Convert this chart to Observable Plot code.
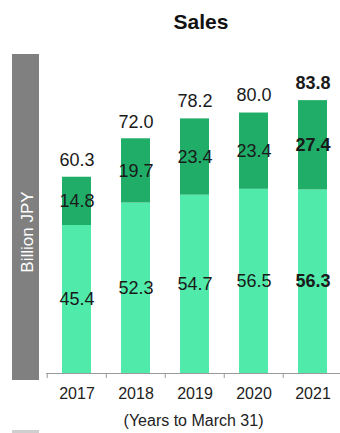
<!DOCTYPE html>
<html>
<head>
<meta charset="utf-8">
<script src="https://cdn.jsdelivr.net/npm/d3@7"></script>
<script src="https://cdn.jsdelivr.net/npm/@observablehq/plot@0.6"></script>
<style>
  body { margin: 0; background: #fff; font-family: "Liberation Sans", Arial, sans-serif; }
  #wrap { position: relative; width: 340px; height: 433px; overflow: hidden; }
  #chart { position: absolute; left: 0; top: 0; }
  #title { position: absolute; left: 0; width: 402px; top: 11px; text-align: center;
           font-weight: bold; font-size: 21px; line-height: 1; color: #111; }
  #unit { position: absolute; left: 12px; top: 54px; width: 27px; height: 326px; background: #808080; }
  #unit span { position: absolute; left: 15px; top: 178px; transform: translate(-50%, -50%) rotate(-90deg);
               color: #fff; font-size: 17px; white-space: nowrap; line-height: 1; }
  #foot { position: absolute; left: 12px; top: 430px; width: 27px; height: 3px; background: #cfcfcf; }
</style>
</head>
<body>
<div id="wrap">
  <div id="chart"></div>
  <div id="title">Sales</div>
  <div id="unit"><span>Billion JPY</span></div>
  <div id="foot"></div>
</div>
<script>
// Fiscal years (ending March 31)
const years = ["2017", "2018", "2019", "2020", "2021"];
// Sales split into two segments, billion JPY
const baseSales = [45.4, 52.3, 54.7, 56.5, 56.3];
const upperSales = [14.8, 19.7, 23.4, 23.4, 27.4];
const totalSales = [60.3, 72.0, 78.2, 80.0, 83.8];
const latestYear = "2021";

const rows = [
  ...years.map((year, i) => ({ year, part: "base", value: baseSales[i] })),
  ...years.map((year, i) => ({ year, part: "upper", value: upperSales[i] }))
];
const totals = years.map((year, i) => ({ year, value: totalSales[i] }));

const W = 340, H = 433;
const left = 46, right = 343.5;
const step = (right - left) / years.length;
const font = "Liberation Sans, Arial, sans-serif";
const fmt = d => d.value.toFixed(1);

const segLabel = (data, weight) => Plot.text(data, Plot.stackY({
  x: "year", y: "value", text: fmt, fontSize: 18, fontWeight: weight, fill: "#1a1a1a"
}));
const totLabel = (data, weight) => Plot.text(data, {
  x: "year", y: "value", text: fmt, dy: -17, fontSize: 18, fontWeight: weight, fill: "#1a1a1a"
});

const chart = Plot.plot({
  width: W,
  height: H,
  marginTop: 47,
  marginBottom: 60,
  marginLeft: left,
  marginRight: 0,
  style: { fontFamily: font, background: "transparent", overflow: "visible" },
  x: { domain: years, range: [left, right], paddingInner: 0.51, paddingOuter: 0.255, axis: null },
  y: { domain: [0, 100], axis: null },
  color: { domain: ["base", "upper"], range: ["#50EBAA", "#1FAD68"] },
  marks: [
    Plot.barY(rows, { x: "year", y: "value", fill: "part" }),
    segLabel(rows.filter(d => d.year !== latestYear), "normal"),
    segLabel(rows.filter(d => d.year === latestYear), "bold"),
    totLabel(totals.filter(d => d.year !== latestYear), "normal"),
    totLabel(totals.filter(d => d.year === latestYear), "bold"),
    Plot.ruleY([0], { stroke: "#9a9a9a" }),
    Plot.axisX({ tickSize: 5, tickFormat: () => "", label: null, dx: -step / 2, stroke: "#9a9a9a" }),
    Plot.axisX({ tickSize: 0, tickPadding: 14, fontSize: 16, fill: "#222", label: null }),
    Plot.text(["(Years to March 31)"], {
      frameAnchor: "bottom", lineAnchor: "middle", dy: 47, fontSize: 16, fill: "#222"
    })
  ]
});
document.getElementById("chart").appendChild(chart);
</script>
</body>
</html>
